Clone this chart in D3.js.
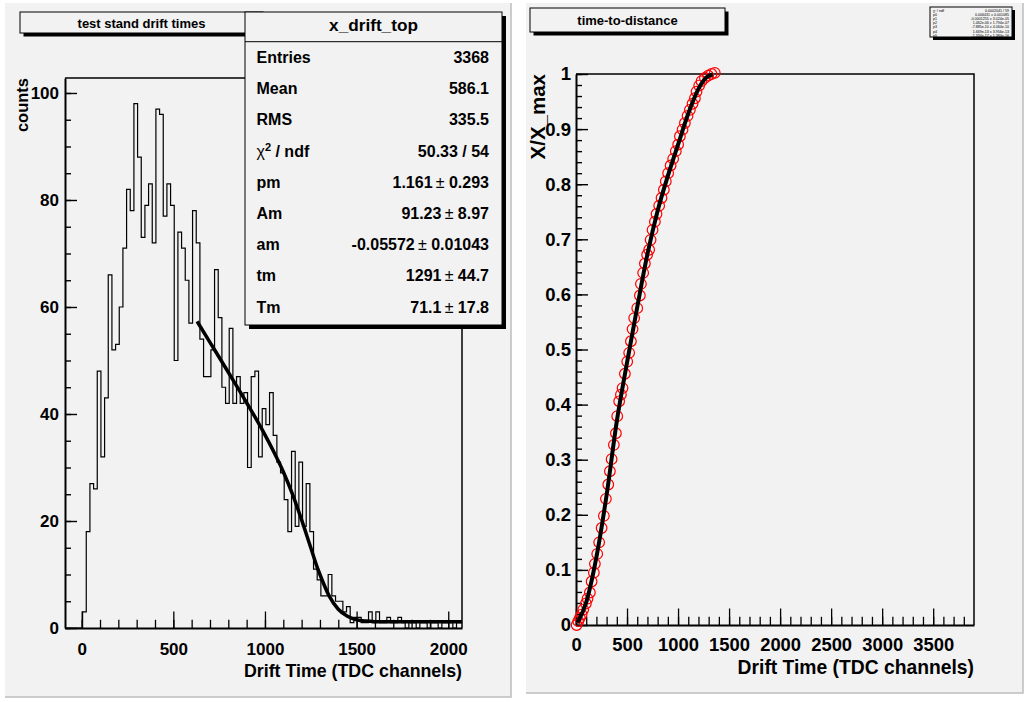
<!DOCTYPE html>
<html lang="en">
<head>
<meta charset="utf-8"/>
<script src="https://cdnjs.cloudflare.com/ajax/libs/d3/7.8.5/d3.min.js"></script>
<style>
  body { margin: 0; background: #fff; }
  svg text { font-family: "Liberation Sans", Arial, Helvetica, sans-serif; font-weight: bold; fill: #000; }
</style>
</head>
<body>
<script>
// ---------- left pad : drift time histogram ----------
var binStart = 5;      // low edge of first bin (TDC channels)
var binWidth = 20;
var driftCounts = [
  3, 18, 27, 26, 48, 32, 43, 66, 52, 53,
  60, 71, 82, 78, 98, 88, 73, 79, 83, 72,
  97, 96, 77, 83, 79, 50, 74, 71, 65, 57,
  78, 72, 54, 47, 47, 52, 67, 58, 45, 42,
  56, 42, 47, 42, 44, 30, 47, 48, 32, 41,
  38, 44, 36, 31, 29, 24, 18, 33, 19, 31,
  19, 27, 18, 11, 9, 6, 6, 10, 6, 5,
  5, 3, 4, 1, 2, 2, 1, 1, 3, 1,
  3, 1, 1, 2, 1, 1, 2, 1, 0, 1,
  1, 0, 1, 1, 0, 1, 1, 0, 1, 1,
  1, 0, 1, 1
];
// fitted drift spectrum
var fitTimes  = [630, 700, 800, 900, 1000, 1050, 1100, 1150, 1200, 1250, 1291, 1300, 1350, 1400, 1450, 1500, 1550, 1600, 1700, 1800, 2075];
var fitCounts = [57.3, 53.4, 47.8, 42.1, 36.1, 32.8, 29.2, 25.0, 20.2, 15.0, 10.8, 10.0, 6.0, 3.5, 2.2, 1.55, 1.29, 1.19, 1.15, 1.15, 1.16];
var histXTicks = [0, 500, 1000, 1500, 2000];
var histYTicks = [0, 20, 40, 60, 80, 100];
var statLabels = ["Entries", "Mean", "RMS", "chi2", "pm", "Am", "am", "tm", "Tm"];
var statValues = [["3368"], ["586.1"], ["335.5"], ["50.33 / 54"],
                  ["1.161", "0.293"], ["91.23", "8.97"], ["-0.05572", "0.01043"],
                  ["1291", "44.7"], ["71.1", "17.8"]];

// ---------- right pad : time-to-distance ----------
var tdTimes = [6, 22, 38, 55, 71, 97, 113, 136, 153, 175,
               185, 208, 227, 251, 273, 293, 316, 332, 349, 371,
               391, 404, 423, 440, 456, 479, 502, 521, 538, 554,
               570, 600, 626, 636, 658, 675, 697, 717, 731, 750,
               773, 789, 815, 838, 861, 880, 903, 927, 952, 978,
               1001, 1018, 1044, 1067, 1093, 1116, 1142, 1165, 1181, 1207,
               1230, 1263, 1295, 1328, 1360];
var tdDist = [0.000, 0.007, 0.013, 0.019, 0.028, 0.039, 0.048, 0.059, 0.079, 0.095,
              0.111, 0.129, 0.150, 0.176, 0.198, 0.229, 0.255, 0.279, 0.301, 0.327,
              0.348, 0.379, 0.406, 0.418, 0.430, 0.456, 0.478, 0.494, 0.515, 0.537,
              0.557, 0.575, 0.598, 0.619, 0.639, 0.656, 0.672, 0.681, 0.699, 0.717,
              0.732, 0.746, 0.761, 0.775, 0.790, 0.805, 0.820, 0.834, 0.846, 0.860,
              0.872, 0.887, 0.899, 0.911, 0.924, 0.935, 0.946, 0.956, 0.968, 0.979,
              0.987, 0.993, 0.997, 1.000, 1.002];
var tdFitTimes = [15, 100, 200, 300, 400, 500, 600, 700, 800, 900, 1000, 1100, 1200, 1280, 1340];
var tdFitDist  = [0.004, 0.041, 0.123, 0.236, 0.37, 0.476, 0.577, 0.673, 0.752, 0.815, 0.872, 0.928, 0.973, 0.994, 0.999];
var tdXTicks = [0, 500, 1000, 1500, 2000, 2500, 3000, 3500];
var tdYTicks = [0, 0.1, 0.2, 0.3, 0.4, 0.5, 0.6, 0.7, 0.8, 0.9, 1];
var polRows = [["\u03c7\u00b2 / ndf", "0.0002041 / 59"],
               ["p0", "0.006431 \u00b1 0.001085"],
               ["p1", "-0.0001255 \u00b1 3.024e-05"],
               ["p2", "1.462e-06 \u00b1 1.794e-07"],
               ["p3", "-7.885e-10 \u00b1 4.064e-10"],
               ["p4", "1.669e-13 \u00b1 3.956e-13"],
               ["p5", "-1.334e-17 \u00b1 1.384e-16"]];

var svg = d3.select("body").append("svg")
            .attr("width", 1031)
            .attr("height", 702);

// pad background with darker bottom / right edge
function drawPad(x0, y0, x1, y1) {
  svg.append("rect")
     .attr("x", x0).attr("y", y0)
     .attr("width", x1 - x0).attr("height", y1 - y0)
     .attr("fill", "#f2f2f2");
  svg.append("path")
     .attr("d", "M" + x0 + "," + y1 + "H" + x1 + "V" + y0)
     .attr("fill", "none")
     .attr("stroke", "#bdbdbd")
     .attr("stroke-width", 1.5);
}

// box with black drop shadow
function shadowBox(x0, y0, x1, y1, sh) {
  svg.append("rect")
     .attr("x", x0 + sh).attr("y", y0 + sh)
     .attr("width", x1 - x0).attr("height", y1 - y0)
     .attr("fill", "#000");
  svg.append("rect")
     .attr("x", x0).attr("y", y0)
     .attr("width", x1 - x0).attr("height", y1 - y0)
     .attr("fill", "#f2f2f2")
     .attr("stroke", "#000")
     .attr("stroke-width", 1);
}

// ROOT style axes: ticks pointing inside the frame
function bottomAxis(scale, y, minor, major, majLen, minLen, fs, pad, fmt) {
  svg.append("g")
     .attr("transform", "translate(0," + y + ")")
     .call(d3.axisBottom(scale).tickValues(minor).tickSize(-minLen).tickSizeOuter(0).tickFormat(""))
     .call(g => g.select(".domain").remove())
     .selectAll("line").attr("stroke-width", 1.3);
  var g = svg.append("g")
     .attr("transform", "translate(0," + y + ")")
     .call(d3.axisBottom(scale).tickValues(major).tickSize(-majLen).tickSizeOuter(0)
             .tickPadding(pad).tickFormat(fmt));
  g.select(".domain").attr("stroke-width", 2);
  g.selectAll("line").attr("stroke-width", 1.3);
  g.selectAll("text").style("font-size", fs + "px");
}

function leftAxis(scale, x, minor, major, majLen, minLen, fs, pad, fmt) {
  svg.append("g")
     .attr("transform", "translate(" + x + ",0)")
     .call(d3.axisLeft(scale).tickValues(minor).tickSize(-minLen).tickSizeOuter(0).tickFormat(""))
     .call(g => g.select(".domain").remove())
     .selectAll("line").attr("stroke-width", 1.4);
  var g = svg.append("g")
     .attr("transform", "translate(" + x + ",0)")
     .call(d3.axisLeft(scale).tickValues(major).tickSize(-majLen).tickSizeOuter(0)
             .tickPadding(pad).tickFormat(fmt));
  g.select(".domain").attr("stroke-width", 2);
  g.selectAll("line").attr("stroke-width", 1.4);
  g.selectAll("text").style("font-size", fs + "px");
}

drawPad(5, 3, 511, 697);
drawPad(526, 3, 1023, 693);

// ================= left: histogram =================
var L = {x0: 65, x1: 462, y0: 78, y1: 628};
var hx = d3.scaleLinear().domain([-91, 2075]).range([L.x0, L.x1]);
var hy = d3.scaleLinear().domain([0, 102.8]).range([L.y1, L.y0]);

svg.append("clipPath").attr("id", "clipL")
   .append("rect").attr("x", L.x0).attr("y", 0)
   .attr("width", L.x1 - L.x0).attr("height", L.y1);

// frame top / right
svg.append("path")
   .attr("d", "M" + L.x0 + "," + L.y0 + "H" + L.x1 + "V" + L.y1)
   .attr("fill", "none").attr("stroke", "#000").attr("stroke-width", 1.5);

bottomAxis(hx, L.y1, d3.range(0, 2001, 100), histXTicks, 16.5, 8.2, 17, 15, d3.format("d"));
leftAxis(hy, L.x0, d3.range(0, 101, 5), histYTicks, 12, 6, 17, 6, d3.format("d"));

// histogram outline
var histPts = [[hx.domain()[0], 0]];
driftCounts.forEach(function(c, i) { histPts.push([binStart + i * binWidth, c]); });
histPts.push([binStart + driftCounts.length * binWidth, 0]);

svg.append("path")
   .datum(histPts)
   .attr("clip-path", "url(#clipL)")
   .attr("fill", "none")
   .attr("stroke", "#000")
   .attr("stroke-width", 1.2)
   .attr("d", d3.line().x(d => hx(d[0])).y(d => hy(d[1])).curve(d3.curveStepAfter));

// fit curve
svg.append("path")
   .datum(fitTimes.map((t, i) => [t, fitCounts[i]]))
   .attr("clip-path", "url(#clipL)")
   .attr("fill", "none")
   .attr("stroke", "#000")
   .attr("stroke-width", 3.5)
   .attr("d", d3.line().x(d => hx(d[0])).y(d => hy(d[1])).curve(d3.curveMonotoneX));

// axis titles
svg.append("text")
   .attr("x", L.x1).attr("y", 677)
   .attr("text-anchor", "end")
   .style("font-size", "17.8px")
   .text("Drift Time (TDC channels)");
svg.append("text")
   .attr("transform", "translate(28," + L.y0 + ") rotate(-90)")
   .attr("text-anchor", "end")
   .style("font-size", "16.5px")
   .text("counts");

// title box
shadowBox(20, 12, 263, 33, 3.5);
svg.append("text")
   .attr("x", 141.5).attr("y", 27.5)
   .attr("text-anchor", "middle")
   .style("font-size", "13px")
   .text("test stand drift times");

// stats box
shadowBox(245, 12, 502, 325, 4);
svg.append("line")
   .attr("x1", 245).attr("x2", 502).attr("y1", 41.7).attr("y2", 41.7)
   .attr("stroke", "#000").attr("stroke-width", 1);
svg.append("text")
   .attr("x", 373.5).attr("y", 31)
   .attr("text-anchor", "middle")
   .style("font-size", "17.2px")
   .text("x_drift_top");

statLabels.forEach(function(lab, i) {
  var y = 63 + i * 31.2;
  var t = svg.append("text").attr("x", 256.5).attr("y", y).style("font-size", "16px");
  if (lab === "chi2") {
    t.append("tspan").style("font-weight", "normal").text("\u03c7");
    t.append("tspan").attr("dy", -6).style("font-size", "11px").text("2");
    t.append("tspan").attr("dy", 6).text(" / ndf");
  } else {
    t.text(lab);
  }
  var v = svg.append("text").attr("x", 489).attr("y", y)
             .attr("text-anchor", "end").style("font-size", "16px");
  var vals = statValues[i];
  v.append("tspan").text(vals[0]);
  if (vals.length > 1) {
    v.append("tspan").style("font-weight", "normal").text("\u2009\u00b1");
    v.append("tspan").text(" " + vals[1]);
  }
});

// ================= right: time-to-distance =================
var R = {x0: 576, x1: 974, y0: 74, y1: 625};
var tx = d3.scaleLinear().domain([0, 3900]).range([R.x0, R.x1]);
var ty = d3.scaleLinear().domain([0, 1]).range([R.y1, R.y0]);

svg.append("path")
   .attr("d", "M" + R.x0 + "," + R.y0 + "H" + R.x1 + "V" + R.y1)
   .attr("fill", "none").attr("stroke", "#000").attr("stroke-width", 1.5);

bottomAxis(tx, R.y1, d3.range(0, 3801, 100), tdXTicks, 16.5, 8.2, 18.4, 13, d3.format("d"));
leftAxis(ty, R.x0, d3.range(0, 1.001, 0.02), tdYTicks, 12, 6, 18.5, 5, d3.format(""));

svg.append("g")
   .selectAll("circle")
   .data(tdTimes)
   .enter()
   .append("circle")
   .attr("cx", d => tx(d))
   .attr("cy", (d, i) => ty(tdDist[i]))
   .attr("r", 5.3)
   .attr("fill", "none")
   .attr("stroke", "#ff0000")
   .attr("stroke-width", 1.2);

svg.append("path")
   .datum(tdFitTimes.map((t, i) => [t, tdFitDist[i]]))
   .attr("fill", "none")
   .attr("stroke", "#000")
   .attr("stroke-width", 4)
   .attr("d", d3.line().x(d => tx(d[0])).y(d => ty(d[1])).curve(d3.curveMonotoneX));

svg.append("text")
   .attr("x", R.x1).attr("y", 674)
   .attr("text-anchor", "end")
   .style("font-size", "19.3px")
   .text("Drift Time (TDC channels)");
svg.append("text")
   .attr("transform", "translate(545," + R.y0 + ") rotate(-90)")
   .attr("text-anchor", "end")
   .style("font-size", "20.5px")
   .text("X/X_max");

shadowBox(530, 8, 725, 32, 3.5);
svg.append("text")
   .attr("x", 627.5).attr("y", 24.8)
   .attr("text-anchor", "middle")
   .style("font-size", "13px")
   .text("time-to-distance");

// tiny pol5 fit box
shadowBox(930, 7, 1012, 37, 3);
polRows.forEach(function(r, i) {
  var y = 12 + i * 4.1;
  svg.append("text").attr("x", 933).attr("y", y)
     .style("font-size", "3.6px").style("font-weight", "normal").text(r[0]);
  svg.append("text").attr("x", 1009).attr("y", y)
     .attr("text-anchor", "end")
     .style("font-size", "3.6px").style("font-weight", "normal").text(r[1]);
});
</script>
</body>
</html>
